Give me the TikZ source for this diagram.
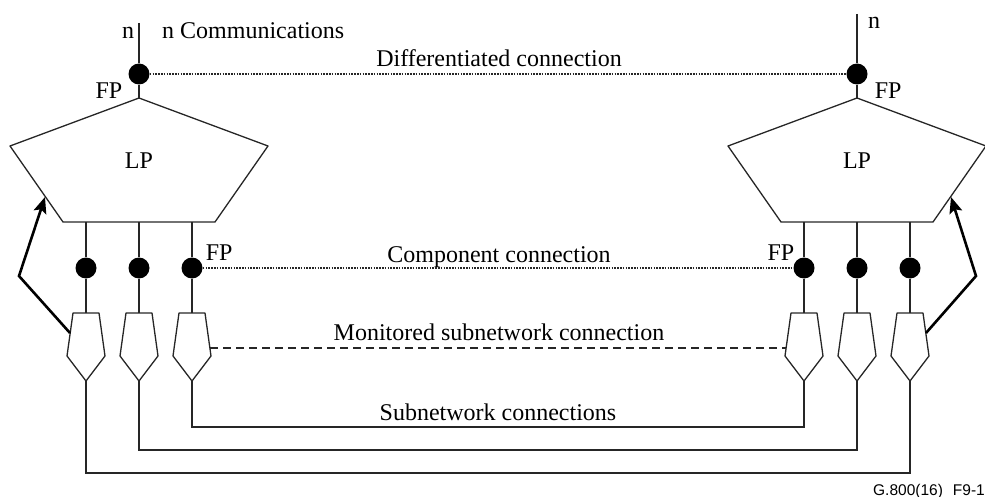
\documentclass[tikz,border=0pt]{standalone}
\usepackage{fontspec}
\setmainfont{Liberation Serif}
\newfontfamily\refsans{Liberation Sans}
\usetikzlibrary{positioning}
\usetikzlibrary{arrows.meta}
\tikzset{
  fp/.style={circle, fill=black, inner sep=0pt, minimum size=21pt},
  lbl/.style={inner sep=0pt, font=\fontsize{24}{26}\selectfont},
  wire/.style={line width=1.3pt, black!85},
  ctrl/.style={line width=2.6pt, black, -{Stealth[length=16pt,width=13pt,inset=3pt]}},
  lpblock/.pic={
    \draw[wire, line join=round] (0,0) -- (129,48) -- (76,124) -- (-76,124) -- (-129,48) -- cycle;
    \coordinate (-top) at (0,0);
    \coordinate (-a) at (-53,124);
    \coordinate (-b) at (0,124);
    \coordinate (-c) at (53,124);
    \coordinate (-sw) at (-94,99);
    \coordinate (-se) at (94,99);
  },
  monitor/.pic={
    \draw[wire, line join=round] (-13,0) -- (13,0) -- (19,43) -- (0,68) -- (-19,43) -- cycle;
    \coordinate (-top) at (0,0);
    \coordinate (-tip) at (0,68);
    \coordinate (-w) at (-18,35);
    \coordinate (-e) at (18,35);
    \coordinate (-tw) at (-16,20);
    \coordinate (-te) at (16,20);
  }
}

\begin{document}
\begin{tikzpicture}[x=1pt, y=-1pt]
    \useasboundingbox (0,0) rectangle (985,497);

    \pic (lpl) at (139,98) {lpblock};
    \pic (lpr) at (857,98) {lpblock};
    \pic (m1) at (86,313) {monitor};
    \pic (m2) at (139,313) {monitor};
    \pic (m3) at (192,313) {monitor};
    \pic (m4) at (804,313) {monitor};
    \pic (m5) at (857,313) {monitor};
    \pic (m6) at (910,313) {monitor};

    \node[fp] (fptl) at (139,74) {};
    \node[fp] (fptr) at (857,74) {};
    \node[fp] (fp1) at (86,268) {};
    \node[fp] (fp2) at (139,268) {};
    \node[fp] (fp3) at (192,268) {};
    \node[fp] (fp4) at (804,268) {};
    \node[fp] (fp5) at (857,268) {};
    \node[fp] (fp6) at (910,268) {};

    \coordinate (endl) at (139,23);
    \coordinate (endr) at (857,14);
    \coordinate (bendl) at (19,276);
    \coordinate (bendr) at (976,276);

    \node[lbl] (lpltext) at (139,161) {LP};
    \node[lbl] (lprtext) at (857,161) {LP};
    \node[lbl, below left=1pt and 9pt of fptl] (fptltext) {FP};
    \node[lbl, below right=1pt and 10pt of fptr] (fptrtext) {FP};
    \node[lbl, above right=0pt and 6pt of fp3] (fp3text) {FP};
    \node[lbl, above left=0pt and 2pt of fp4] (fp4text) {FP};
    \node[lbl, anchor=base west] (nl) at (122,39) {n};
    \node[lbl, anchor=base west] (nr) at (868,29) {n};
    \node[lbl, anchor=base west] (comms) at (162,39) {n Communications};
    \node[lbl, anchor=base] (diff) at (499,67) {Differentiated connection};
    \node[lbl, anchor=base] (comp) at (499,262) {Component connection};
    \node[lbl, anchor=base] (moni) at (499,340) {Monitored subnetwork connection};
    \node[lbl, anchor=base] (subn) at (498,420) {Subnetwork connections};
    \node[inner sep=0pt, anchor=base east, font=\refsans\fontsize{15.5}{18}\selectfont] (figno) at (985,495) {G.800(16)\hspace{10pt}F9-1};

    % Connect the nodes
    \draw[wire] (endl) -- (fptl);
    \draw[wire] (fptl) -- (lpl-top);
    \draw[wire] (endr) -- (fptr);
    \draw[wire] (fptr) -- (lpr-top);
    \draw[wire] (lpl-a) -- (fp1);
    \draw[wire] (lpl-b) -- (fp2);
    \draw[wire] (lpl-c) -- (fp3);
    \draw[wire] (lpr-a) -- (fp4);
    \draw[wire] (lpr-b) -- (fp5);
    \draw[wire] (lpr-c) -- (fp6);
    \draw[wire] (fp1) -- (m1-top);
    \draw[wire] (fp2) -- (m2-top);
    \draw[wire] (fp3) -- (m3-top);
    \draw[wire] (fp4) -- (m4-top);
    \draw[wire] (fp5) -- (m5-top);
    \draw[wire] (fp6) -- (m6-top);

    % Connections between the two sides
    \draw[wire, line width=1.5pt, dash pattern=on 1.6pt off 1.2pt] (fptl) -- (fptr);
    \draw[wire, line width=1.5pt, dash pattern=on 1.6pt off 1.2pt] (fp3) -- (fp4);
    \draw[wire, dash pattern=on 8pt off 5pt] (m3-e) -- (m4-w);
    \draw[wire] (m3-tip) -- ++(0,46) -| (m4-tip);
    \draw[wire] (m2-tip) -- ++(0,69) -| (m5-tip);
    \draw[wire] (m1-tip) -- ++(0,92) -| (m6-tip);

    % Monitoring arrows
    \draw[ctrl] (m1-tw) -- (bendl) -- (lpl-sw);
    \draw[ctrl] (m6-te) -- (bendr) -- (lpr-se);
  \end{tikzpicture}
\end{document}
